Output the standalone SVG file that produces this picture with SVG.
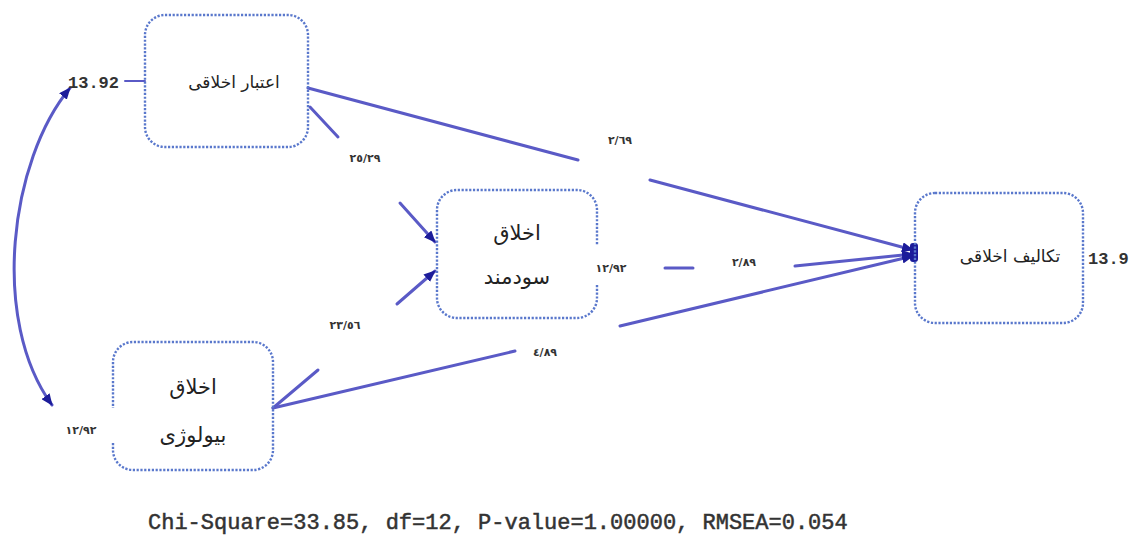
<svg xmlns="http://www.w3.org/2000/svg" width="1137" height="543" viewBox="0 0 1137 543">
<style>
.box{fill:none;stroke:#5a78cc;stroke-width:2.4;stroke-dasharray:2.2 1.6}
.ln{fill:none;stroke:#5a5ac6;stroke-width:3;stroke-linecap:round}
.fa{font-family:"DejaVu Sans",sans-serif;fill:#222;text-anchor:middle}
.num{font-family:"DejaVu Sans",sans-serif;font-size:11px;font-weight:bold;fill:#333;text-anchor:middle}
.mono{font-family:"Liberation Mono",monospace;fill:#333}
</style>
<defs>
<marker id="ah" viewBox="0 0 12 10" refX="11" refY="5" markerWidth="12" markerHeight="10" markerUnits="userSpaceOnUse" orient="auto-start-reverse">
<path d="M0 0 L12 5 L0 10 Z" fill="#1c1c9a"/>
</marker>
</defs>
<rect width="1137" height="543" fill="#fff"/>
<g id="connectors">
<path class="ln" d="M308 88 L578 160"/>
<path class="ln" d="M650 180 L913 250" marker-end="url(#ah)"/>
<path class="ln" d="M310 107 L338 137"/>
<path class="ln" d="M400 203 L435 242" marker-end="url(#ah)"/>
<path class="ln" d="M273 408 L318 370"/>
<path class="ln" d="M397 304 L435 271" marker-end="url(#ah)"/>
<path class="ln" d="M273 408 L515 351"/>
<path class="ln" d="M620 326 L913 256" marker-end="url(#ah)"/>
<path class="ln" d="M665 268 L693 268"/>
<path class="ln" d="M795 266 L913 254" marker-end="url(#ah)"/>
<path class="ln" d="M125 81 L145 81" style="stroke-width:2"/>
<path class="ln" d="M70 88 C10 160,-10 320,52 405" marker-start="url(#ah)" marker-end="url(#ah)"/>
<rect x="910" y="243" width="8" height="19" rx="3" fill="#1c1c9a"/>
</g>
<g id="n-etebar">
<rect class="box" x="145" y="15" width="163" height="132" rx="20"/>
<text class="fa" x="234" y="88" font-size="17">اعتبار اخلاقی</text>
<text class="mono" x="68" y="88" font-size="17" font-weight="bold" fill="#444">13.92</text>
</g>
<g id="n-sudmand">
<path class="box" d="M597 285 V298 A20 20 0 0 1 577 318 H457 A20 20 0 0 1 437 298 V210 A20 20 0 0 1 457 190 H577 A20 20 0 0 1 597 210 V245"/>
<text class="fa" x="517" y="240" font-size="21">اخلاق</text>
<text class="fa" x="517" y="284" font-size="21">سودمند</text>
<text class="num" x="611" y="272">١٢/٩٢</text>
</g>
<g id="n-biology">
<path class="box" d="M113 443 V450 A20 20 0 0 0 133 470 H253 A20 20 0 0 0 273 450 V362 A20 20 0 0 0 253 342 H133 A20 20 0 0 0 113 362 V408"/>
<text class="fa" x="193" y="394" font-size="21">اخلاق</text>
<text class="fa" x="193" y="442" font-size="21">بیولوژی</text>
<text class="num" x="81" y="434">١٢/٩٢</text>
</g>
<g id="n-takalif">
<rect class="box" x="915" y="193" width="168" height="130" rx="20"/>
<text class="fa" x="1010" y="262" font-size="17">تکالیف اخلاقی</text>
<text class="mono" x="1088" y="264" font-size="17" font-weight="bold" fill="#444">13.9</text>
</g>
<g id="labels">
<text class="num" x="365" y="162">٢٥/٢٩</text>
<text class="num" x="620" y="144">٢/٦٩</text>
<text class="num" x="345" y="329">٢٣/٥٦</text>
<text class="num" x="545" y="356">٤/٨٩</text>
<text class="num" x="744" y="266">٢/٨٩</text>
</g>
<text class="mono" x="148" y="529" font-size="22" stroke="#333" stroke-width="0.5">Chi-Square=33.85, df=12, P-value=1.00000, RMSEA=0.054</text>
</svg>
